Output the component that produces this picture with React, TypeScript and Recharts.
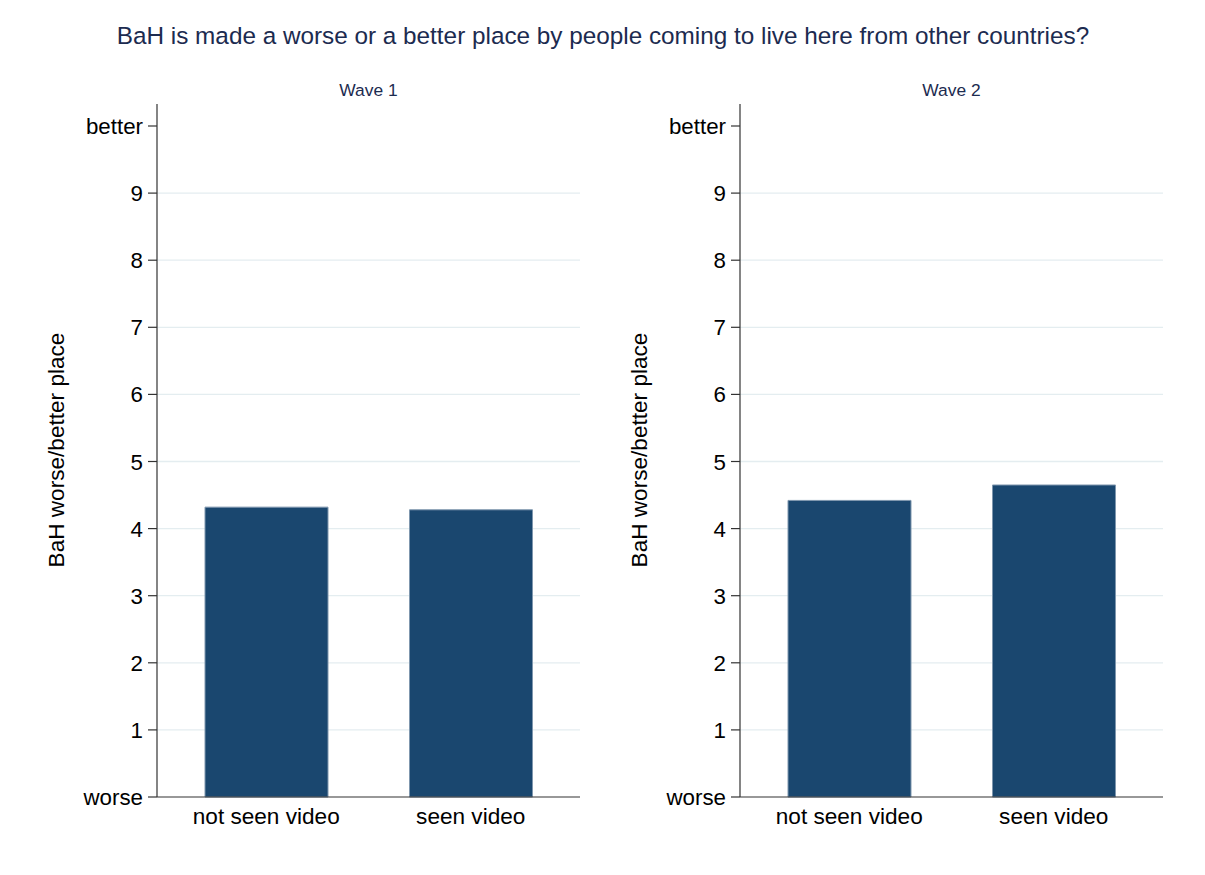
import React from 'react';
import { BarChart, Bar, XAxis, YAxis, CartesianGrid } from 'recharts';

const chartTitle = 'BaH is made a worse or a better place by people coming to live here from other countries?';
const panelTitles = ['Wave 1', 'Wave 2'];
const yAxisTitle = 'BaH worse/better place';
const categories = ['not seen video', 'seen video'];
const wave1Values = [4.32, 4.28];
const wave2Values = [4.42, 4.65];
const yTicks = [0, 1, 2, 3, 4, 5, 6, 7, 8, 9, 10];
const yTickLabels = ['worse', '1', '2', '3', '4', '5', '6', '7', '8', '9', 'better'];
const gridValues = [1, 2, 3, 4, 5, 6, 7, 8, 9];

const FONT = '"Liberation Sans", Arial, Helvetica, sans-serif';
const NAVY = '#1a476f';
const TITLE_COLOR = '#1c2b50';
const AXIS_COLOR = '#333333';

const CHART_W = 600;
const CHART_H = 875;
const PLOT_TOP = 104;
const X_AXIS_H = 78;
const Y_AXIS_W = 157;
const RIGHT_M = 20;

const YTick = (props: any) => {
  const { x, y, payload } = props;
  const idx = yTicks.indexOf(payload.value);
  return (
    <text x={x} y={y} dy={8} textAnchor="end" fontSize={22.3} fontFamily={FONT} fill="#000">
      {yTickLabels[idx]}
    </text>
  );
};

const XTick = (props: any) => {
  const { x, y, payload } = props;
  return (
    <text x={x} y={y} dy={27} textAnchor="middle" fontSize={22.6} fontFamily={FONT} fill="#000">
      {payload.value}
    </text>
  );
};

function Panel({ values, left }: { values: number[]; left: number }) {
  const data = categories.map((c, i) => ({ category: c, value: values[i] }));
  return (
    <div style={{ position: 'absolute', left, top: 0 }}>
      <BarChart
        width={CHART_W}
        height={CHART_H}
        data={data}
        margin={{ top: PLOT_TOP, right: RIGHT_M, bottom: 0, left: 0 }}
        barCategoryGap={0}
      >
        <CartesianGrid
          vertical={false}
          horizontalValues={gridValues}
          stroke="#e4edf0"
          strokeWidth={1.3}
        />
        <XAxis
          dataKey="category"
          height={X_AXIS_H}
          padding={{ left: 7, right: 7 }}
          tickLine={false}
          tickSize={0}
          tickMargin={0}
          axisLine={{ stroke: AXIS_COLOR, strokeWidth: 1.2 }}
          tick={<XTick />}
          interval={0}
        />
        <YAxis
          type="number"
          width={Y_AXIS_W}
          domain={[0, 10]}
          ticks={yTicks}
          interval={0}
          padding={{ top: 22, bottom: 0 }}
          tickSize={9}
          tickMargin={5}
          axisLine={{ stroke: AXIS_COLOR, strokeWidth: 1.2 }}
          tickLine={{ stroke: AXIS_COLOR, strokeWidth: 1.2 }}
          tick={<YTick />}
        />
        <Bar
          dataKey="value"
          fill={NAVY}
          stroke="#7f97ae"
          strokeWidth={1}
          barSize={123}
          isAnimationActive={false}
        />
      </BarChart>
    </div>
  );
}

export default function App() {
  const panelLefts = [0, 583];
  const panelCenters = [368.5, 951.5];
  const yTitleX = [63.5, 646.5];
  return (
    <div
      style={{
        position: 'absolute',
        left: 0,
        top: 0,
        width: 1205,
        height: 875,
        background: '#ffffff',
        overflow: 'hidden',
      }}
    >
      <Panel values={wave1Values} left={panelLefts[0]} />
      <Panel values={wave2Values} left={panelLefts[1]} />
      <svg
        width={1205}
        height={875}
        style={{ position: 'absolute', left: 0, top: 0, pointerEvents: 'none' }}
      >
        <text
          x={603}
          y={44}
          textAnchor="middle"
          fontSize={24.3}
          fontFamily={FONT}
          fill={TITLE_COLOR}
        >
          {chartTitle}
        </text>
        {panelTitles.map((t, i) => (
          <text
            key={t}
            x={panelCenters[i]}
            y={96}
            textAnchor="middle"
            fontSize={17.4}
            fontFamily={FONT}
            fill={TITLE_COLOR}
          >
            {t}
          </text>
        ))}
        {yTitleX.map((x, i) => (
          <text
            key={i}
            x={x}
            y={450}
            textAnchor="middle"
            fontSize={22.6}
            fontFamily={FONT}
            fill="#000"
            transform={`rotate(-90 ${x} 450)`}
          >
            {yAxisTitle}
          </text>
        ))}
      </svg>
    </div>
  );
}
